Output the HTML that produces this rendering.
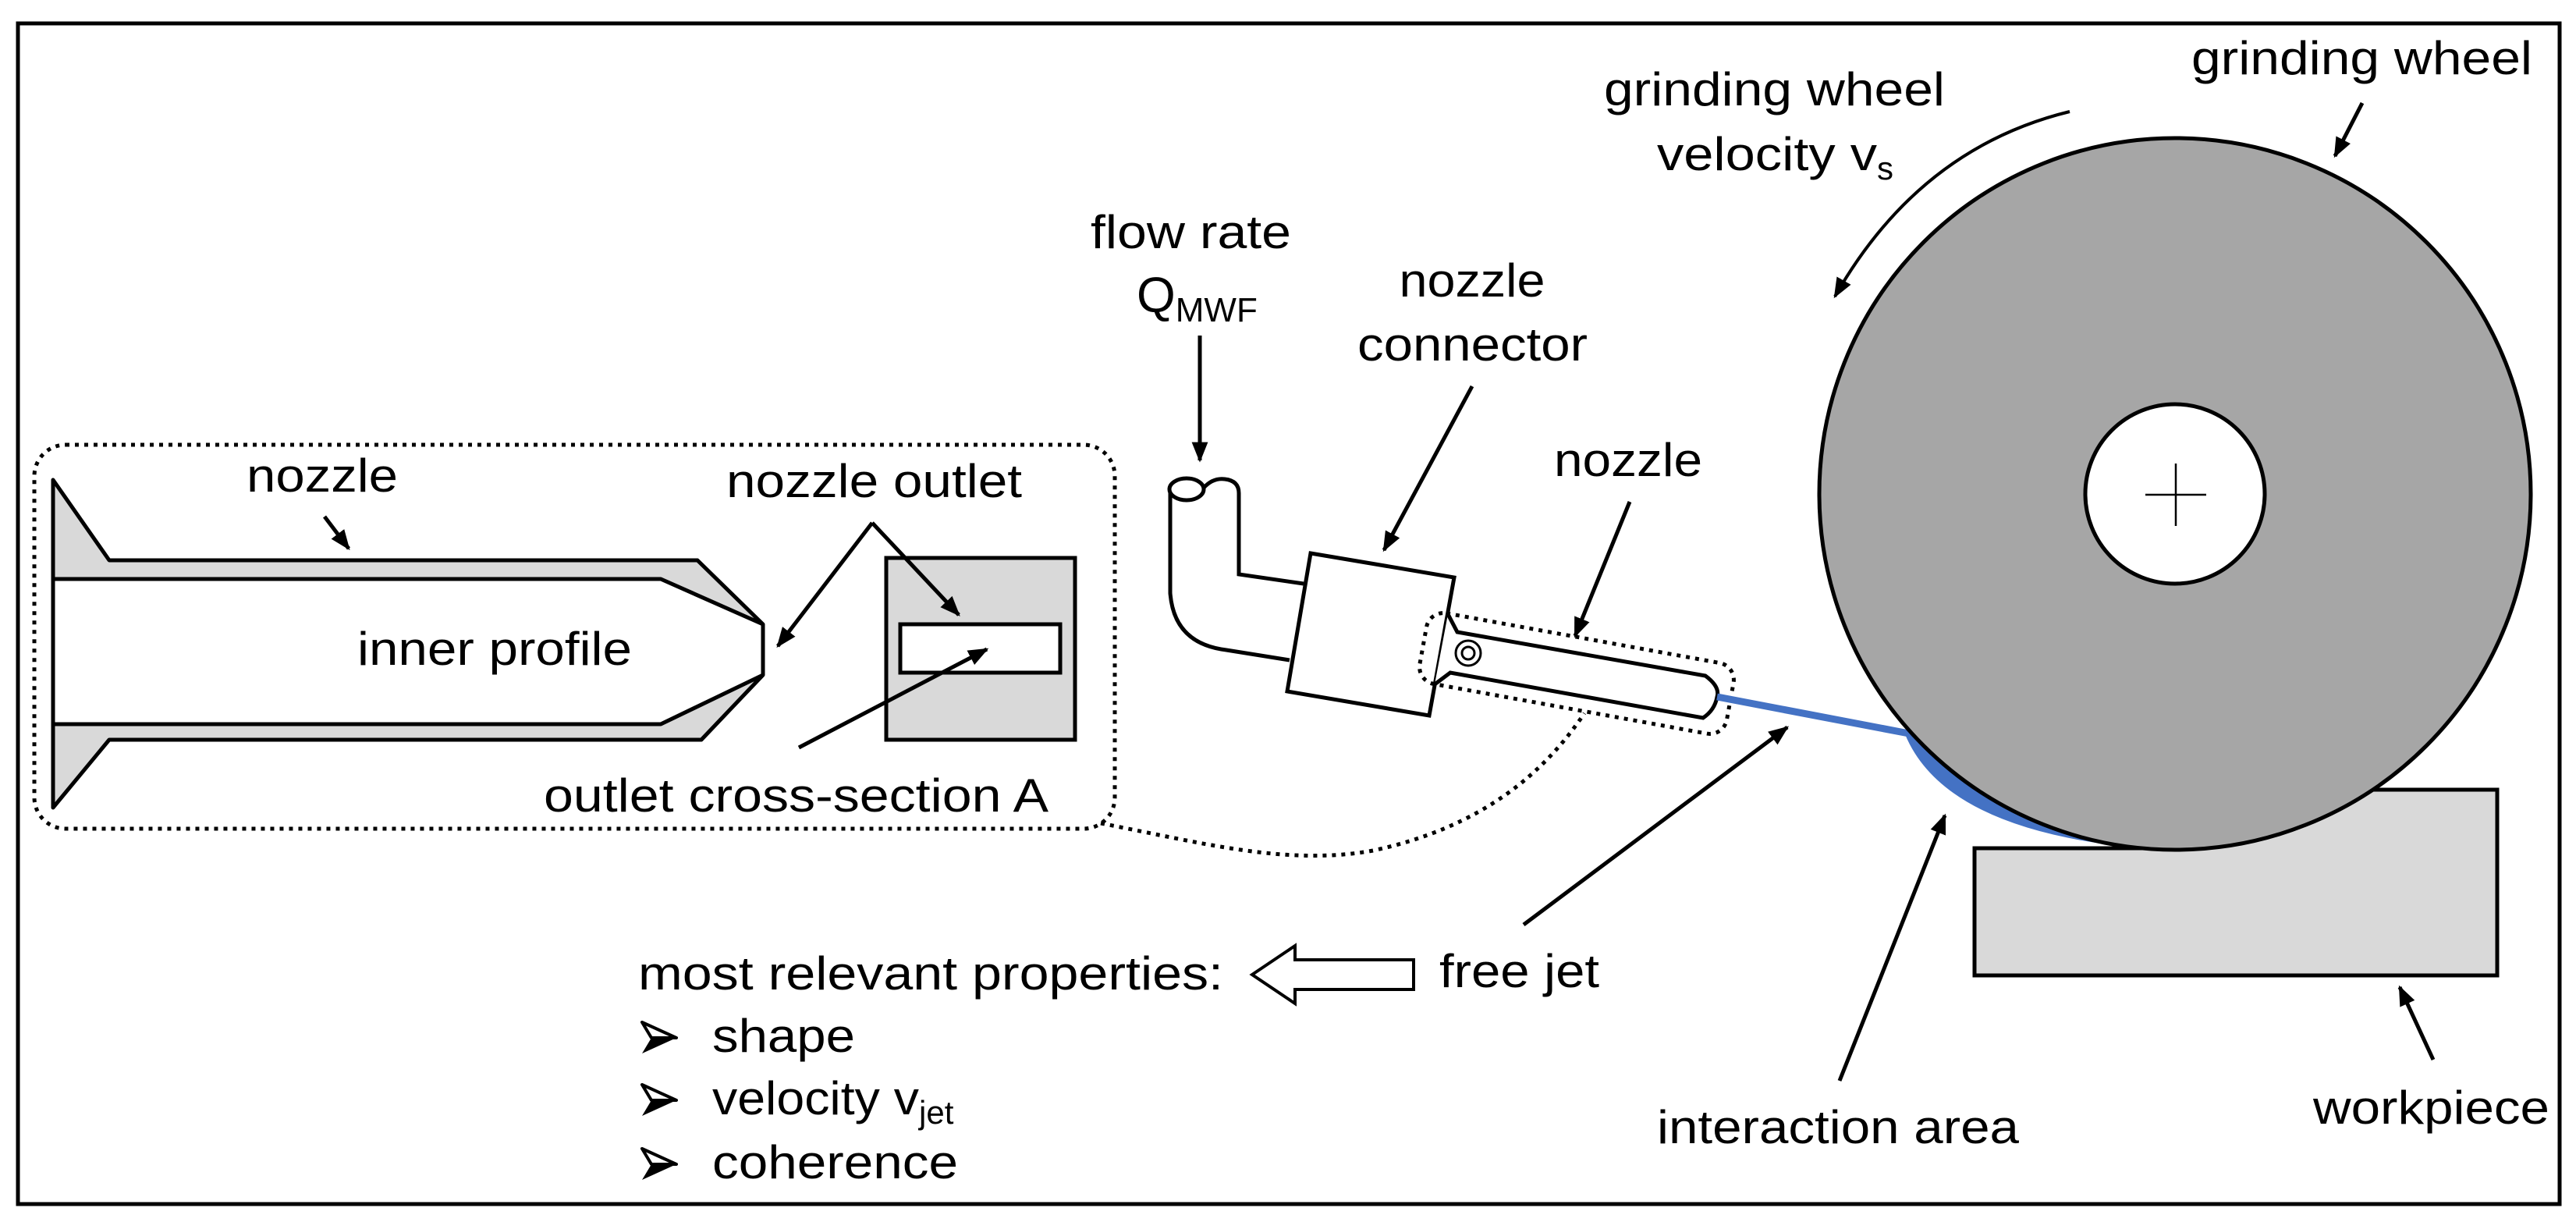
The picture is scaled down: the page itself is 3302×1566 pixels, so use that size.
<!DOCTYPE html>
<html><head><meta charset="utf-8"><style>html,body{margin:0;padding:0;background:#fff}svg{display:block}</style></head>
<body>
<svg width="3302" height="1566" viewBox="0 0 3302 1566" xmlns="http://www.w3.org/2000/svg" font-family="Liberation Sans, Arial, sans-serif" font-size="60" fill="#000">
<defs>
<marker id="a" viewBox="0 0 10 10" refX="9" refY="5" markerWidth="26" markerHeight="26" markerUnits="userSpaceOnUse" orient="auto"><path d="M0,1 L10,5 L0,9 Z" fill="#000"/></marker>
<g id="bul"><path d="M0,-40 L44,-20 L0,0 L12,-20 Z" fill="#000"/><path d="M0,-40 L44,-20 L12,-20 Z" fill="#fff" stroke="#000" stroke-width="4" stroke-linejoin="round"/></g>
</defs>
<rect x="23" y="30" width="3258" height="1513" fill="none" stroke="#000" stroke-width="5"/>

<!-- big dotted box -->
<rect x="44" y="570" width="1385" height="492" rx="40" fill="none" stroke="#000" stroke-width="5" stroke-dasharray="5,7"/>
<path d="M1411,1055 C1540,1080 1650,1110 1760,1090 C1900,1060 1980,990 2031,914" fill="none" stroke="#000" stroke-width="5" stroke-dasharray="5,7"/>

<!-- left nozzle -->
<polygon points="68,615 140,718 894,718 978,800 847,742 68,742" fill="#d9d9d9" stroke="#000" stroke-width="5" stroke-linejoin="round"/>
<polygon points="68,1035 140,948 899,948 978,865 847,928 68,928" fill="#d9d9d9" stroke="#000" stroke-width="5" stroke-linejoin="round"/>
<line x1="68" y1="615" x2="68" y2="1035" stroke="#000" stroke-width="5"/>
<line x1="978" y1="800" x2="978" y2="865" stroke="#000" stroke-width="5"/>
<text x="316" y="630" textLength="194" lengthAdjust="spacingAndGlyphs">nozzle</text>
<line x1="416" y1="662" x2="447" y2="703" stroke="#000" stroke-width="5" marker-end="url(#a)"/>
<text x="458" y="852" textLength="352" lengthAdjust="spacingAndGlyphs">inner profile</text>
<text x="931" y="637" textLength="379" lengthAdjust="spacingAndGlyphs">nozzle outlet</text>
<rect x="1136" y="715" width="242" height="233" fill="#d9d9d9" stroke="#000" stroke-width="5"/>
<rect x="1154" y="800" width="205" height="62" fill="#fff" stroke="#000" stroke-width="5"/>
<line x1="1118" y1="670" x2="997" y2="828" stroke="#000" stroke-width="5" marker-end="url(#a)"/>
<line x1="1118" y1="670" x2="1229" y2="788" stroke="#000" stroke-width="5" marker-end="url(#a)"/>
<line x1="1024" y1="958" x2="1265" y2="832" stroke="#000" stroke-width="5" marker-end="url(#a)"/>
<text x="697" y="1040" textLength="647" lengthAdjust="spacingAndGlyphs">outlet cross-section A</text>

<!-- properties -->
<text x="818" y="1268" textLength="750" lengthAdjust="spacingAndGlyphs">most relevant properties:</text>
<use href="#bul" x="823" y="1350"/><text x="913" y="1348" textLength="183" lengthAdjust="spacingAndGlyphs">shape</text>
<use href="#bul" x="823" y="1430"/><text x="913" y="1428"><tspan textLength="265" lengthAdjust="spacingAndGlyphs">velocity v</tspan><tspan font-size="42" dy="12">jet</tspan></text>
<use href="#bul" x="823" y="1512"/><text x="913" y="1510" textLength="315" lengthAdjust="spacingAndGlyphs">coherence</text>
<polygon points="1605,1249 1660,1212 1660,1230 1812,1230 1812,1268 1660,1268 1660,1286" fill="#fff" stroke="#000" stroke-width="4"/>
<text x="1845" y="1265" textLength="205" lengthAdjust="spacingAndGlyphs">free jet</text>
<line x1="1953" y1="1185" x2="2291" y2="932" stroke="#000" stroke-width="5" marker-end="url(#a)"/>

<!-- flow rate -->
<text x="1398" y="318" textLength="257" lengthAdjust="spacingAndGlyphs">flow rate</text>
<text x="1457" y="400" font-size="64">Q<tspan font-size="44" dy="12">MWF</tspan></text>
<line x1="1538" y1="430" x2="1538" y2="590" stroke="#000" stroke-width="5" marker-end="url(#a)"/>

<!-- pipe -->
<path d="M1500,629 L1500,760 Q1505,825 1572,833 L1653,846" fill="none" stroke="#000" stroke-width="5"/>
<path d="M1588,632 L1588,736 L1671,748" fill="none" stroke="#000" stroke-width="5"/>
<ellipse cx="1521" cy="627" rx="22" ry="14" fill="#fff" stroke="#000" stroke-width="5"/>
<path d="M1543,625 Q1555,612 1570,614 Q1588,616 1588,632" fill="none" stroke="#000" stroke-width="5"/>

<!-- connector -->
<polygon points="1680,709 1864,740 1832,917 1650,886" fill="#fff" stroke="#000" stroke-width="5"/>
<text x="1887" y="380" text-anchor="middle" textLength="187" lengthAdjust="spacingAndGlyphs">nozzle</text>
<text x="1740" y="462" textLength="295" lengthAdjust="spacingAndGlyphs">connector</text>
<line x1="1887" y1="495" x2="1774" y2="705" stroke="#000" stroke-width="5" marker-end="url(#a)"/>

<!-- small nozzle -->
<path d="M1856,787 L1868,810 L2186,866 Q2205,880 2201,893 Q2198,910 2183,920 L1859,862 L1839,877" fill="#fff" stroke="#000" stroke-width="5"/>
<circle cx="1882" cy="837" r="16" fill="none" stroke="#000" stroke-width="3"/>
<circle cx="1882" cy="837" r="8" fill="none" stroke="#000" stroke-width="3"/>
<g transform="translate(2021,863) rotate(10.3)">
<rect x="-200" y="-46" width="400" height="92" rx="22" fill="none" stroke="#000" stroke-width="5" stroke-dasharray="5,7"/>
</g>
<text x="1992" y="610" textLength="190" lengthAdjust="spacingAndGlyphs">nozzle</text>
<line x1="2089" y1="643" x2="2019" y2="815" stroke="#000" stroke-width="5" marker-end="url(#a)"/>

<!-- workpiece -->
<polygon points="2531,1087 2810,1087 2810,1012 3201,1012 3201,1250 2531,1250" fill="#d9d9d9" stroke="#000" stroke-width="5"/>
<!-- interaction -->
<path d="M2440,936 Q2490,1070 2770,1089 L2820,1089 L2700,900 Z" fill="#4472c4"/>
<line x1="2201" y1="893" x2="2447" y2="940" stroke="#4472c4" stroke-width="9"/>
<!-- wheel -->
<circle cx="2788" cy="633" r="456" fill="#a6a6a6" stroke="#000" stroke-width="5"/>
<circle cx="2788" cy="633" r="115" fill="#fff" stroke="#000" stroke-width="5"/>
<line x1="2750" y1="634" x2="2828" y2="634" stroke="#000" stroke-width="2.5"/>
<line x1="2789" y1="594" x2="2789" y2="674" stroke="#000" stroke-width="2.5"/>
<path d="M2653,143 Q2460,190 2352,380" fill="none" stroke="#000" stroke-width="4" marker-end="url(#a)"/>
<text x="2056" y="135" textLength="437" lengthAdjust="spacingAndGlyphs">grinding wheel</text>
<text x="2124" y="218"><tspan textLength="282" lengthAdjust="spacingAndGlyphs">velocity v</tspan><tspan font-size="42" dy="12">s</tspan></text>
<text x="2809" y="95" textLength="437" lengthAdjust="spacingAndGlyphs">grinding wheel</text>
<line x1="3028" y1="132" x2="2993" y2="200" stroke="#000" stroke-width="5" marker-end="url(#a)"/>
<text x="2124" y="1465" textLength="464" lengthAdjust="spacingAndGlyphs">interaction area</text>
<line x1="2358" y1="1385" x2="2493" y2="1045" stroke="#000" stroke-width="5" marker-end="url(#a)"/>
<text x="2965" y="1440" textLength="303" lengthAdjust="spacingAndGlyphs">workpiece</text>
<line x1="3119" y1="1358" x2="3076" y2="1265" stroke="#000" stroke-width="5" marker-end="url(#a)"/>
</svg>
</body></html>
